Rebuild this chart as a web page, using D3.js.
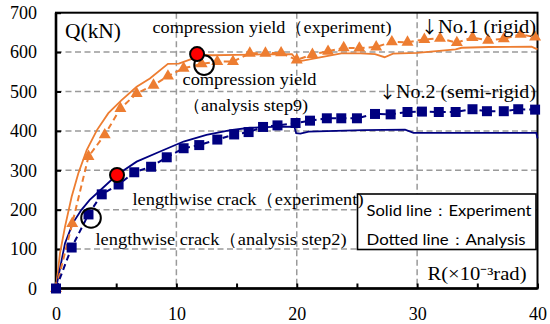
<!DOCTYPE html>
<html>
<head>
<meta charset="utf-8">
<script src="https://cdn.jsdelivr.net/npm/d3@7"></script>
<style>
  html, body { margin: 0; padding: 0; background: #fff; }
  svg { display: block; }
</style>
</head>
<body>
<svg id="chart" width="550" height="324"></svg>
<script>
// Storey drift angle R (x10^-3 rad) and storey shear Q (kN)

// No.1 (rigid) – experiment
const rExp1 = [0, 0.33, 0.75, 1.3, 1.85, 2.55, 3.4, 4.35, 5.45, 6.7, 7.8, 9.3, 10.2, 11.4, 11.75, 13, 15, 17, 19.6, 20.1, 21.5, 23.7, 25.3, 26.5, 27.3, 28.0, 30, 33.2, 33.7, 36, 39.5, 40];
const qExp1 = [0, 89, 157, 233, 292, 351, 402, 445, 478, 512, 533, 570, 571, 584, 593, 592, 593, 594, 595, 576, 584, 597, 597, 595, 587, 596, 598, 607, 611, 613, 614, 607];

// No.1 (rigid) – analysis steps
const rAna1 = [0, 1.35, 2.7, 4.05, 5.35, 6.7, 8.1, 9.3, 10.6, 12.1, 13.4, 14.7, 16.1, 17.4, 18.7, 20.0, 21.3, 22.6, 23.9, 25.2, 26.6, 27.9, 29.2, 30.6, 31.9, 33.3, 34.6, 35.9, 37.2, 38.6, 39.8];
const qAna1 = [0, 165, 335, 390, 457, 495, 516, 539, 559, 570, 576, 576, 597, 597, 598, 580, 594, 602, 611, 610, 613, 626, 625, 632, 635, 624, 637, 630, 634, 645, 638];

// No.2 (semi-rigid) – experiment
const rExp2 = [0, 0.75, 1.4, 2.1, 2.8, 3.7, 5.05, 6.7, 8.6, 10.6, 12.5, 14.5, 16.1, 18, 19.8, 19.95, 20.3, 21, 25.5, 29, 29.7, 35, 39.9, 40];
const qExp2 = [0, 115, 166, 199, 225, 250, 288, 322, 347, 373, 390, 402, 408, 410, 411, 394, 393, 398, 402, 403, 395, 395, 395, 381];

// No.2 (semi-rigid) – analysis steps
const rAna2 = [0, 1.3, 2.7, 3.8, 5.2, 6.5, 7.9, 9.2, 10.6, 11.9, 13.4, 14.8, 16.0, 17.2, 18.4, 19.9, 21.1, 22.5, 23.7, 25.0, 26.5, 27.8, 29.2, 30.4, 31.8, 33.2, 34.6, 35.8, 37.2, 38.4, 39.8];
const qAna2 = [0, 104, 188, 239, 264, 295, 309, 333, 356, 364, 378, 391, 397, 410, 414, 420, 426, 432, 432, 432, 443, 442, 448, 449, 448, 448, 455, 450, 450, 455, 454];

// Yield / crack events: experiment (filled) and analysis (open)
const eventExpR = [11.72, 5.07];
const eventExpQ = [595, 288];
const eventAnaR = [12.3, 2.91];
const eventAnaQ = [567, 179];

// Axis ticks
const xTickValues = [0, 5, 10, 15, 20, 25, 30, 35, 40];
const xTickLabels = ["0", "", "10", "", "20", "", "30", "", "40"];
const xGrid = [10, 20, 30];
const yTickValues = [0, 100, 200, 300, 400, 500, 600, 700];
const yTickLabels = ["0", "100", "200", "300", "400", "500", "600", "700"];
const yGrid = [100, 200, 300, 400, 500, 600];

// Text
const yAxisTitle = "Q(kN)";
const xAxisTitle = "R(×10⁻³rad)";
const seriesArrow = "↓";
const seriesNames = ["No.1 (rigid)", "No.2 (semi-rigid)"];
const eventNotes = [
  "compression yield（experiment)",
  "compression yield",
  "（analysis step9)",
  "lengthwise crack（experiment)",
  "lengthwise crack（analysis step2)"
];
const legendLines = ["Solid line：Experiment", "Dotted line：Analysis"];

const ORANGE = "#ED7D31";
const NAVY = "#000080";
const SERIF = "'Liberation Serif', 'Times New Roman', serif";
const CJK = "'Noto Sans CJK JP', 'Noto Sans CJK SC', sans-serif";
const SANS = "Lato, 'Liberation Sans', sans-serif";

const svg = d3.select("#chart");
const plotL = 56, plotR = 537.5, plotT = 12.7, plotB = 288.5;

const x = d3.scaleLinear().domain([0, 40]).range([plotL, plotR]);
const y = d3.scaleLinear().domain([0, 700]).range([plotB, plotT]);

// Grid
const grid = svg.append("g").attr("stroke", "#9a9a9a").attr("stroke-width", 1.5)
  .attr("stroke-dasharray", "6,3.5").attr("fill", "none");
grid.selectAll("line.h").data(yGrid).join("line").attr("class", "h")
  .attr("x1", plotL).attr("x2", plotR).attr("y1", d => y(d)).attr("y2", d => y(d));
grid.selectAll("line.v").data(xGrid).join("line").attr("class", "v")
  .attr("y1", plotT).attr("y2", plotB).attr("x1", d => x(d)).attr("x2", d => x(d));

// Axes with inward ticks
const yAxis = d3.axisLeft(y).tickValues(yTickValues).tickSize(-5).tickPadding(19)
  .tickFormat((d, i) => yTickLabels[i]);
const xAxis = d3.axisBottom(x).tickValues(xTickValues).tickSize(-5).tickPadding(18.7)
  .tickFormat((d, i) => xTickLabels[i]);

const gy = svg.append("g").attr("transform", `translate(${plotL},0)`).call(yAxis);
const gx = svg.append("g").attr("transform", `translate(0,${plotB})`).call(xAxis);
[gx, gy].forEach(g => {
  g.select(".domain").remove();
  g.selectAll(".tick line").attr("stroke", "#000").attr("stroke-width", 2);
  g.selectAll(".tick text").attr("fill", "#000").style("font-family", SERIF).style("font-size", "18px");
});

// Plot frame
svg.append("rect").attr("x", plotL).attr("y", plotT).attr("width", plotR - plotL).attr("height", plotB - plotT)
  .attr("fill", "none").attr("stroke", "#000").attr("stroke-width", 2);
svg.append("path").attr("d", `M${plotL},${plotT}V${plotB}H${plotR}`)
  .attr("fill", "none").attr("stroke", "#000").attr("stroke-width", 2.6);

// Curves
const line = d3.line().x(d => x(d[0])).y(d => y(d[1]));
const zipPts = (rs, qs) => rs.map((r, i) => [r, qs[i]]);

const curves = [
  { pts: zipPts(rExp1, qExp1), color: ORANGE, dash: null, w: 1.8 },
  { pts: zipPts(rExp2, qExp2), color: NAVY, dash: null, w: 1.8 },
  { pts: zipPts(rAna1, qAna1), color: ORANGE, dash: "6,4", w: 2 },
  { pts: zipPts(rAna2, qAna2), color: NAVY, dash: "6,4", w: 2 }
];
svg.append("g").selectAll("path").data(curves).join("path")
  .attr("d", d => line(d.pts))
  .attr("fill", "none")
  .attr("stroke", d => d.color)
  .attr("stroke-width", d => d.w)
  .attr("stroke-dasharray", d => d.dash);

// Analysis step markers
svg.append("g").selectAll("path").data(zipPts(rAna1, qAna1)).join("path")
  .attr("transform", d => `translate(${x(d[0])},${y(d[1])})`)
  .attr("d", d3.symbol(d3.symbolTriangle, 62)())
  .attr("fill", ORANGE);
svg.append("g").selectAll("path").data(zipPts(rAna2, qAna2)).join("path")
  .attr("transform", d => `translate(${x(d[0])},${y(d[1])})`)
  .attr("d", d3.symbol(d3.symbolSquare, 100)())
  .attr("fill", NAVY);

// Event circles
svg.append("g").selectAll("circle").data(zipPts(eventAnaR, eventAnaQ)).join("circle")
  .attr("cx", d => x(d[0])).attr("cy", d => y(d[1])).attr("r", 9.8)
  .attr("fill", "none").attr("stroke", "#000").attr("stroke-width", 2);
svg.append("g").selectAll("circle").data(zipPts(eventExpR, eventExpQ)).join("circle")
  .attr("cx", d => x(d[0])).attr("cy", d => y(d[1])).attr("r", 7)
  .attr("fill", "#ff0000").attr("stroke", "#000").attr("stroke-width", 2);

// Legend box (text annotations are drawn over it)
svg.append("rect").attr("x", 357.5).attr("y", 194).attr("width", 178.5).attr("height", 55.5)
  .attr("fill", "#fff").attr("stroke", "#000").attr("stroke-width", 1.6);

function label(txt, px, py, size, len, family) {
  const t = svg.append("text").attr("x", px).attr("y", py)
    .style("font-family", family || SERIF).style("font-size", size + "px")
    .attr("fill", "#000").text(txt);
  if (len) t.attr("textLength", len).attr("lengthAdjust", "spacingAndGlyphs");
  return t;
}
function seriesLabel(name, px, py, len) {
  const t = svg.append("text").attr("x", px).attr("y", py)
    .style("font-family", SERIF).style("font-size", "19px").attr("fill", "#000");
  t.append("tspan").style("font-family", CJK).style("font-size", "17px").text(seriesArrow);
  t.append("tspan").attr("textLength", len).attr("lengthAdjust", "spacingAndGlyphs").text(name);
}

label(yAxisTitle, 65, 38, 20, 56);
label(eventNotes[0], 152.5, 33, 17, 239);
seriesLabel(seriesNames[0], 421, 33, 98);
label(eventNotes[1], 182.5, 85, 17, 134);
label(eventNotes[2], 183, 111, 17, 125);
seriesLabel(seriesNames[1], 379, 98, 140);
label(eventNotes[3], 132.5, 205, 17, 231);
label(eventNotes[4], 95.5, 245, 17, 251);
label(xAxisTitle, 427.5, 280, 18, 99);

label(legendLines[0], 366.5, 215.5, 15, 165, SANS);
label(legendLines[1], 366.5, 245, 15, 159, SANS);
</script>
</body>
</html>
